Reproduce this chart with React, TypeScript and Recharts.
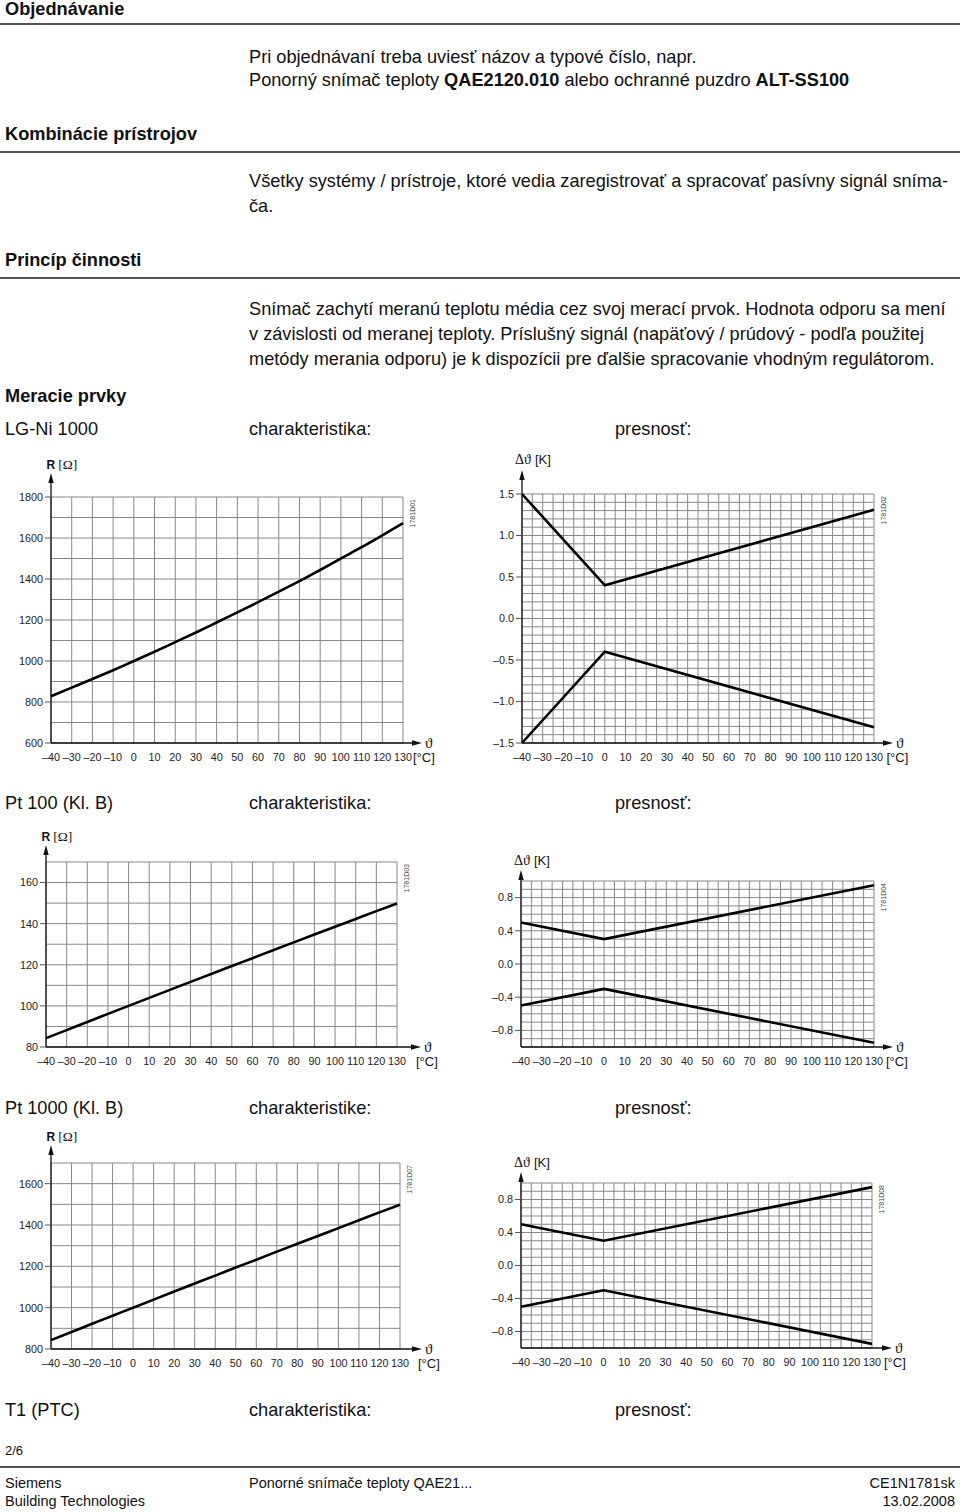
import React from 'react';
import { LineChart, Line, XAxis, YAxis, CartesianGrid, ReferenceLine } from 'recharts';

const SANS = '"Liberation Sans", Arial, Helvetica, sans-serif';
const SERIF = '"Liberation Serif", "DejaVu Serif", "Times New Roman", serif';
const GRID = '#888888';
const AXIS = '#111';

// ---------- data ----------
const tempC = [-40, -30, -20, -10, 0, 10, 20, 30, 40, 50, 60, 70, 80, 90, 100, 110, 120, 130];
const lgNiOhm = [828, 870, 912, 955, 1000, 1045, 1092, 1139, 1188, 1237, 1287, 1338, 1390, 1444, 1500, 1555, 1613, 1673];
const pt100Ohm = [84.3, 88.2, 92.2, 96.1, 100, 103.9, 107.8, 111.7, 115.5, 119.4, 123.2, 127.1, 130.9, 134.7, 138.5, 142.3, 146.1, 149.8];
const pt1000Ohm = [843, 882, 922, 961, 1000, 1039, 1078, 1117, 1155, 1194, 1232, 1271, 1309, 1347, 1385, 1423, 1461, 1498];

const tolTempC = [-40, 0, 130];
const lgNiTolPlus = [1.5, 0.4, 1.31];
const lgNiTolMinus = [-1.5, -0.4, -1.31];
const ptBTolPlus = [0.5, 0.3, 0.95];
const ptBTolMinus = [-0.5, -0.3, -0.95];

// ---------- ticks / grid values ----------
const tempTicks = [-40, -30, -20, -10, 0, 10, 20, 30, 40, 50, 60, 70, 80, 90, 100, 110, 120, 130];
const tempGridFine = [-40, -35, -30, -25, -20, -15, -10, -5, 0, 5, 10, 15, 20, 25, 30, 35, 40, 45, 50, 55, 60, 65, 70, 75, 80, 85, 90, 95, 100, 105, 110, 115, 120, 125, 130];

const lgNiTicks = [600, 800, 1000, 1200, 1400, 1600, 1800];
const lgNiGrid = [600, 700, 800, 900, 1000, 1100, 1200, 1300, 1400, 1500, 1600, 1700, 1800];
const lgNiTolTicks = [-1.5, -1.0, -0.5, 0.0, 0.5, 1.0, 1.5];
const lgNiTolGrid = [-1.5, -1.4, -1.3, -1.2, -1.1, -1.0, -0.9, -0.8, -0.7, -0.6, -0.5, -0.4, -0.3, -0.2, -0.1, 0, 0.1, 0.2, 0.3, 0.4, 0.5, 0.6, 0.7, 0.8, 0.9, 1.0, 1.1, 1.2, 1.3, 1.4, 1.5];
const pt100Ticks = [80, 100, 120, 140, 160];
const pt100Grid = [80, 90, 100, 110, 120, 130, 140, 150, 160, 170];
const pt1000Ticks = [800, 1000, 1200, 1400, 1600];
const pt1000Grid = [800, 900, 1000, 1100, 1200, 1300, 1400, 1500, 1600, 1700];
const ptTolTicks = [-0.8, -0.4, 0.0, 0.4, 0.8];
const ptTolGrid = [-1.0, -0.9, -0.8, -0.7, -0.6, -0.5, -0.4, -0.3, -0.2, -0.1, 0, 0.1, 0.2, 0.3, 0.4, 0.5, 0.6, 0.7, 0.8, 0.9, 1.0];

const lgNiData = tempC.map((t, i) => ({ t, v: lgNiOhm[i] }));
const pt100Data = tempC.map((t, i) => ({ t, v: pt100Ohm[i] }));
const pt1000Data = tempC.map((t, i) => ({ t, v: pt1000Ohm[i] }));
const lgNiTolData = tolTempC.map((t, i) => ({ t, hi: lgNiTolPlus[i], lo: lgNiTolMinus[i] }));
const ptTolData = tolTempC.map((t, i) => ({ t, hi: ptBTolPlus[i], lo: ptBTolMinus[i] }));

const dash = '\u2013';
const fmtTemp = (v: number) => (v < 0 ? dash + Math.abs(v) : String(v));
const fmtInt = (v: number) => String(v);
const fmtDec = (v: number) => (v < -0.001 ? dash + Math.abs(v).toFixed(1) : Math.abs(v).toFixed(1));

type Cfg = {
  left: number; top: number; width: number; height: number;
  plot: { l: number; t: number; r: number; b: number };
  data: Array<Record<string, number>>; keys: string[]; curve: 'monotone' | 'linear';
  yDomain: [number, number]; yTicks: number[]; yGrid: number[]; xGrid: number[];
  yFmt: (v: number) => string; yLabel: 'R' | 'D'; code: string;
  yExt: number; xExt: number; unitDx: number; labelDx: number; labelDy: number;
};

const tickStyle = { fontSize: 10.8, fill: '#222', fontFamily: SANS };

function codeShape(p: any, code: string) {
  const x2 = Math.max(p.x1, p.x2);
  const y = p.y1;
  return (
    <text transform={`translate(${x2 + 9},${y + 2}) rotate(-90)`} textAnchor="end" dominantBaseline="central"
      fontSize={7} fill="#444" fontFamily={SANS}>{code}</text>
  );
}

function xArrowShape(p: any, c: Cfg) {
  const x1 = Math.min(p.x1, p.x2);
  const x2 = Math.max(p.x1, p.x2);
  const y = p.y1;
  const tip = x2 + c.xExt;
  return (
    <g>
      <line x1={x1} y1={y} x2={tip - 8} y2={y} stroke={AXIS} strokeWidth={1.3} />
      <polygon points={`${tip},${y} ${tip - 10},${y - 2.7} ${tip - 10},${y + 2.7}`} fill={AXIS} />
      <text x={tip + 3} y={y + 5} fontFamily={SERIF} fontSize={15} fill="#111">{'\u03D1'}</text>
      <text x={x2 + c.unitDx} y={y + 18.5} fontFamily={SANS} fontSize={13} fill="#111">[°C]</text>
    </g>
  );
}

function yArrowShape(p: any, c: Cfg) {
  const x = p.x1;
  const top = Math.min(p.y1, p.y2);
  const bot = Math.max(p.y1, p.y2);
  const tip = top - c.yExt;
  return (
    <g>
      <line x1={x} y1={bot} x2={x} y2={tip + 8} stroke={AXIS} strokeWidth={1.3} />
      <polygon points={`${x},${tip} ${x - 2.7},${tip + 10} ${x + 2.7},${tip + 10}`} fill={AXIS} />
      {c.yLabel === 'R' ? (
        <text x={x + c.labelDx} y={tip + c.labelDy} fill="#111">
          <tspan fontFamily={SANS} fontWeight="bold" fontSize={12}>R</tspan>
          <tspan fontFamily={SERIF} fontSize={13.5} dx={3}>[{'\u03A9'}]</tspan>
        </text>
      ) : (
        <text x={x + c.labelDx} y={tip + c.labelDy} fill="#111">
          <tspan fontFamily={SERIF} fontSize={14}>{'\u0394\u03D1'}</tspan>
          <tspan fontFamily={SANS} fontSize={13} dx={4}>[K]</tspan>
        </text>
      )}
    </g>
  );
}

function ChartBox({ c }: { c: Cfg }) {
  const { l, t, r, b } = c.plot;
  const margin = { top: t - c.top, right: c.left + c.width - r, bottom: 0, left: 0 };
  return (
    <div style={{ position: 'absolute', left: c.left, top: c.top, width: c.width, height: c.height }}>
      <LineChart width={c.width} height={c.height} data={c.data} margin={margin}>
        <CartesianGrid stroke={GRID} strokeWidth={1} horizontalValues={c.yGrid} verticalValues={c.xGrid} />
        <XAxis dataKey="t" type="number" domain={[-40, 130]} ticks={tempTicks} interval={0}
          tickLine={false} axisLine={false} tickSize={6} tickMargin={4}
          height={c.top + c.height - b} tick={tickStyle} tickFormatter={fmtTemp} />
        <YAxis type="number" domain={c.yDomain} ticks={c.yTicks} interval={0} width={l - c.left}
          tickSize={6} tickMargin={2} axisLine={false} tickLine={{ stroke: '#555', strokeWidth: 1 }}
          tick={tickStyle} tickFormatter={c.yFmt} />
        <ReferenceLine y={c.yDomain[1]} ifOverflow="visible" shape={(p: any) => codeShape(p, c.code)} />
        <ReferenceLine y={c.yDomain[0]} ifOverflow="visible" shape={(p: any) => xArrowShape(p, c)} />
        <ReferenceLine x={-40} ifOverflow="visible" shape={(p: any) => yArrowShape(p, c)} />
        {c.keys.map((k) => (
          <Line key={k} dataKey={k} type={c.curve} stroke="#000" strokeWidth={2.6} dot={false}
            activeDot={false} isAnimationActive={false} />
        ))}
      </LineChart>
    </div>
  );
}

const charts: Cfg[] = [
  {
    left: 0, top: 440, width: 480, height: 340, plot: { l: 51, t: 497, r: 403, b: 743 },
    data: lgNiData, keys: ['v'], curve: 'monotone', yDomain: [600, 1800], yTicks: lgNiTicks, yGrid: lgNiGrid,
    xGrid: tempTicks, yFmt: fmtInt, yLabel: 'R', code: '1781D01', yExt: 24, xExt: 19, unitDx: 10, labelDx: -4.5, labelDy: -4,
  },
  {
    left: 470, top: 440, width: 490, height: 340, plot: { l: 522, t: 494, r: 874, b: 743 },
    data: lgNiTolData, keys: ['hi', 'lo'], curve: 'linear', yDomain: [-1.5, 1.5], yTicks: lgNiTolTicks, yGrid: lgNiTolGrid,
    xGrid: tempGridFine, yFmt: fmtDec, yLabel: 'D', code: '1781D02', yExt: 24, xExt: 19, unitDx: 12.5, labelDx: -7, labelDy: -6,
  },
  {
    left: 0, top: 820, width: 480, height: 260, plot: { l: 46, t: 862, r: 397, b: 1047 },
    data: pt100Data, keys: ['v'], curve: 'monotone', yDomain: [80, 170], yTicks: pt100Ticks, yGrid: pt100Grid,
    xGrid: tempTicks, yFmt: fmtInt, yLabel: 'R', code: '1781D03', yExt: 17, xExt: 24, unitDx: 19, labelDx: -4.5, labelDy: -4,
  },
  {
    left: 470, top: 820, width: 490, height: 260, plot: { l: 521, t: 881, r: 874, b: 1047 },
    data: ptTolData, keys: ['hi', 'lo'], curve: 'linear', yDomain: [-1, 1], yTicks: ptTolTicks, yGrid: ptTolGrid,
    xGrid: tempGridFine, yFmt: fmtDec, yLabel: 'D', code: '1781D04', yExt: 11, xExt: 19, unitDx: 12, labelDx: -7, labelDy: -5,
  },
  {
    left: 0, top: 1125, width: 480, height: 260, plot: { l: 51, t: 1163, r: 400, b: 1349 },
    data: pt1000Data, keys: ['v'], curve: 'monotone', yDomain: [800, 1700], yTicks: pt1000Ticks, yGrid: pt1000Grid,
    xGrid: tempTicks, yFmt: fmtInt, yLabel: 'R', code: '1781D07', yExt: 18, xExt: 22, unitDx: 18, labelDx: -4.5, labelDy: -4,
  },
  {
    left: 470, top: 1125, width: 490, height: 260, plot: { l: 521, t: 1183, r: 872, b: 1348 },
    data: ptTolData, keys: ['hi', 'lo'], curve: 'linear', yDomain: [-1, 1], yTicks: ptTolTicks, yGrid: ptTolGrid,
    xGrid: tempGridFine, yFmt: fmtDec, yLabel: 'D', code: '1781D08', yExt: 11, xExt: 20, unitDx: 12, labelDx: -7, labelDy: -5,
  },
];

const FS = 18.2;

function T({ x, y, children, bold, size, right }: { x: number; y: number; children: React.ReactNode; bold?: boolean; size?: number; right?: boolean }) {
  const s = size || FS;
  const style: React.CSSProperties = {
    position: 'absolute', top: y - 11, lineHeight: '22px', fontSize: s, whiteSpace: 'nowrap',
    fontWeight: bold ? 'bold' : 'normal',
  };
  if (right) style.right = 960 - x; else style.left = x;
  return <div style={style}>{children}</div>;
}

function Rule({ y }: { y: number }) {
  return <div style={{ position: 'absolute', left: 0, top: y - 0.75, width: 960, height: 1.5, background: '#555' }} />;
}

export default function App() {
  return (
    <div style={{ position: 'absolute', left: 0, top: 0, width: 960, height: 1512, background: '#fff', fontFamily: SANS, color: '#111', overflow: 'hidden' }}>
      <T x={5} y={9} bold>Objednávanie</T>
      <Rule y={24} />
      <T x={249} y={57}>Pri objednávaní treba uviesť názov a typové číslo, napr.</T>
      <T x={249} y={80}>Ponorný snímač teploty <b>QAE2120.010</b> alebo ochranné puzdro <b>ALT-SS100</b></T>

      <T x={5} y={134} bold>Kombinácie prístrojov</T>
      <Rule y={152} />
      <T x={249} y={181}>Všetky systémy / prístroje, ktoré vedia zaregistrovať a spracovať pasívny signál sníma-</T>
      <T x={249} y={206}>ča.</T>

      <T x={5} y={260} bold>Princíp činnosti</T>
      <Rule y={278} />
      <T x={249} y={309}>Snímač zachytí meranú teplotu média cez svoj merací prvok. Hodnota odporu sa mení</T>
      <T x={249} y={334}>v závislosti od meranej teploty. Príslušný signál (napäťový / prúdový - podľa použitej</T>
      <T x={249} y={359}>metódy merania odporu) je k dispozícii pre ďalšie spracovanie vhodným regulátorom.</T>

      <T x={5} y={396} bold>Meracie prvky</T>

      <T x={5} y={429}>LG-Ni 1000</T>
      <T x={249} y={429}>charakteristika:</T>
      <T x={615} y={429}>presnosť:</T>

      <T x={5} y={803}>Pt 100 (Kl. B)</T>
      <T x={249} y={803}>charakteristika:</T>
      <T x={615} y={803}>presnosť:</T>

      <T x={5} y={1108}>Pt 1000 (Kl. B)</T>
      <T x={249} y={1108}>charakteristike:</T>
      <T x={615} y={1108}>presnosť:</T>

      <T x={5} y={1410}>T1 (PTC)</T>
      <T x={249} y={1410}>charakteristika:</T>
      <T x={615} y={1410}>presnosť:</T>

      <T x={5} y={1451} size={13}>2/6</T>
      <Rule y={1467} />
      <T x={5} y={1483} size={14.5}>Siemens</T>
      <T x={5} y={1501} size={14.5}>Building Technologies</T>
      <T x={249} y={1483} size={14.5}>Ponorné snímače teploty QAE21...</T>
      <T x={955} y={1483} size={14.5} right>CE1N1781sk</T>
      <T x={955} y={1501} size={14.5} right>13.02.2008</T>

      {charts.map((c, i) => (
        <ChartBox key={i} c={c} />
      ))}
    </div>
  );
}
